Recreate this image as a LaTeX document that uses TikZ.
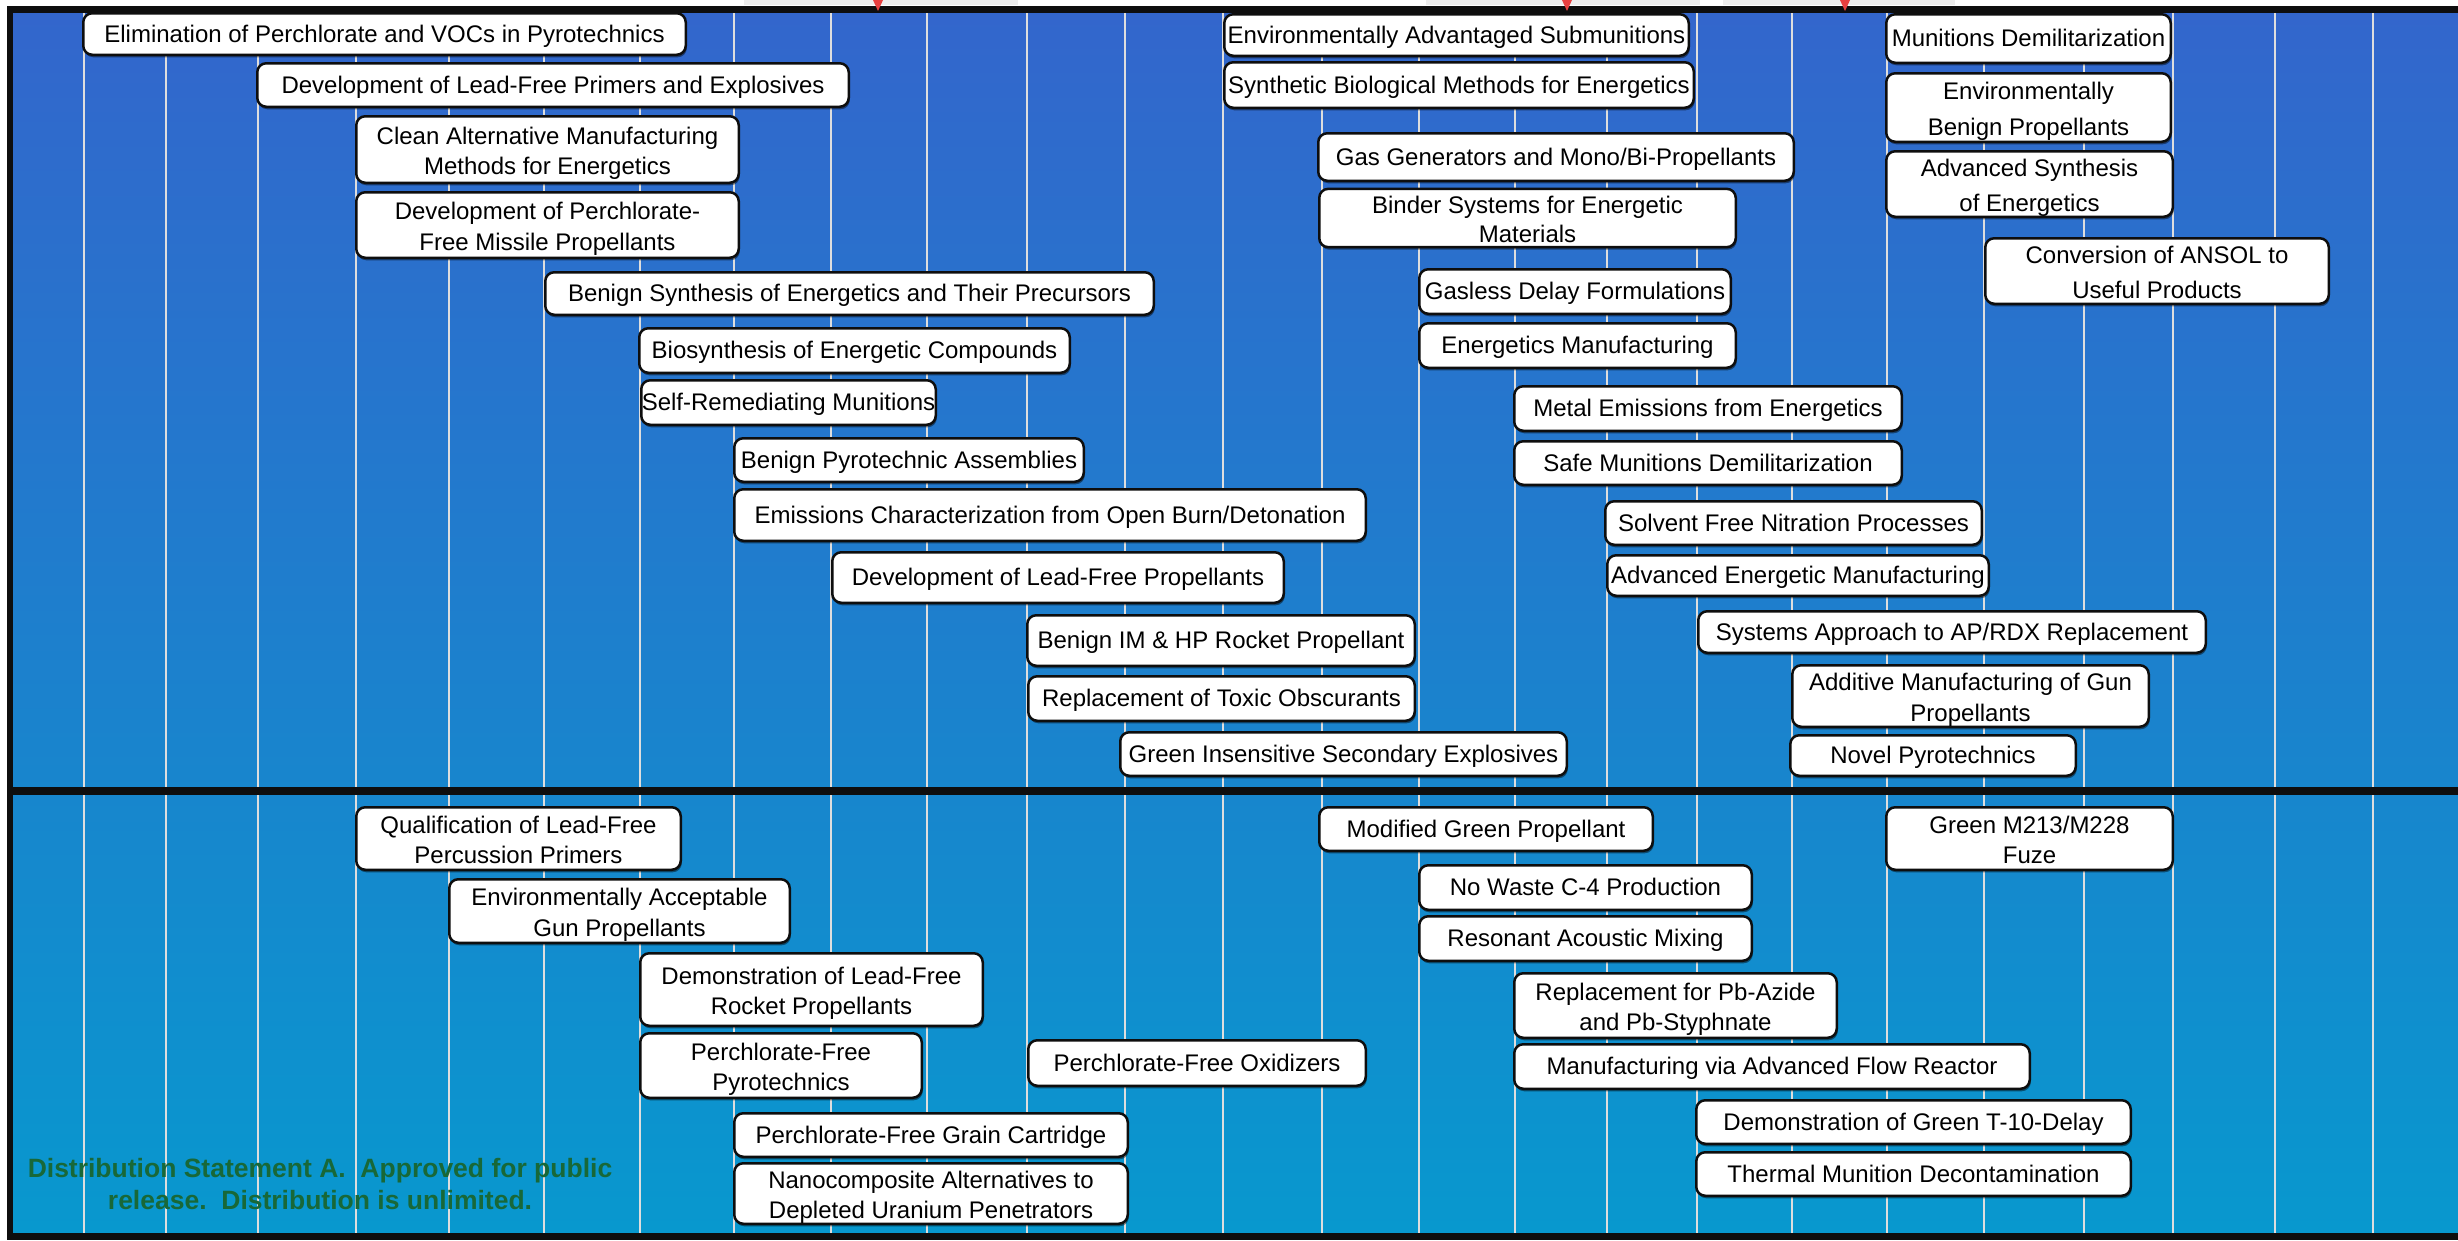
\documentclass[tikz,border=0pt]{standalone}
\usepackage{fontspec}
\setmainfont{Liberation Sans}
\usetikzlibrary{shadows}
\definecolor{bgtop}{RGB}{51,102,204}
\definecolor{bgbot}{RGB}{8,152,206}
\definecolor{gridc}{RGB}{222,222,222}
\definecolor{dgreen}{RGB}{24,104,56}
\definecolor{arrowred}{RGB}{232,64,64}
\definecolor{framec}{RGB}{14,14,14}
\newcommand\tlstrut{\rule[-0.212em]{0pt}{1.117em}}
\newcommand\tltopstrut{\rule[-0.212em]{0pt}{\dimexpr1.117em+3pt\relax}}
\tikzset{
  tlbox/.style={draw=framec, line width=2.5pt, fill=white, rounded corners=9pt,
    align=center, inner sep=0pt, text=black,
    drop shadow={shadow xshift=1pt, shadow yshift=-2.5pt, fill=black, opacity=0.45}},
  gridline/.style={draw=gridc, line width=2.5pt},
  disttext/.style={font=\fontsize{26.5}{32}\selectfont\bfseries, text=dgreen, align=center}
}
\newcommand\tlnode[7][29]{%
  \node[tlbox, font=\fontsize{24}{#1}\selectfont,
        minimum width={(#5-#3-2.5)*1pt}, minimum height={(#6-#4-2.5)*1pt}]
        (#2) at ({(#3+#5)/2},{(#4+#6)/2}) {\tlstrut#7};}
\newcommand\tltwonode[7][30.5]{%
  \node[tlbox, font=\fontsize{24}{#1}\selectfont,
        minimum width={(#5-#3-2.5)*1pt}, minimum height={(#6-#4-2.5)*1pt}]
        (#2) at ({(#3+#5)/2},{(#4+#6)/2}) {\tltopstrut#7\tlstrut};}
\begin{document}
\begin{tikzpicture}[x=1pt,y=-1pt]
\useasboundingbox (0,0) rectangle (2458,1240);
\fill[white] (0,0) rectangle (2458,1240);
% top slivers
\fill[gray!14] (744,0) rectangle (1018,5);
\fill[gray!14] (1426,0) rectangle (1700,5);
\fill[gray!14] (1723,0) rectangle (1955,5);
% background
\shade[top color=bgtop, bottom color=bgbot] (13,12) rectangle (2458,1233);
% grid
\foreach \x in {84,166,258,356,449,544,640,734,831,927,1027,1125,1223,1322,1419,1515,1607,1697,1792,1887,1984,2084,2173,2275,2373}
  \draw[gridline] (\x,11) -- (\x,1233);
% frame
\fill[framec] (7,6) rectangle (2458,12.5);
\fill[framec] (7,6) rectangle (13,1240);
\fill[framec] (7,1233) rectangle (2458,1240);
\fill[framec] (7,787) rectangle (2458,795);
% red markers
\fill[arrowred] (873,0) -- (883,0) -- (878,11) -- cycle;
\fill[arrowred] (1562,0) -- (1572,0) -- (1567,11) -- cycle;
\fill[arrowred] (1840,0) -- (1850,0) -- (1845,11) -- cycle;
% upper panel
\tlnode{b1}{82}{12}{687}{56}{Elimination of Perchlorate and VOCs in Pyrotechnics}
\tlnode{b2}{256}{62}{850}{108}{Development of Lead-Free Primers and Explosives}
\tltwonode{b3}{355}{115}{740}{184}{Clean Alternative Manufacturing\\Methods for Energetics}
\tltwonode{b4}{355}{191}{740}{259}{Development of Perchlorate-\\Free Missile Propellants}
\tlnode{b5}{544}{271}{1155}{316}{Benign Synthesis of Energetics and Their Precursors}
\tlnode{b6}{638}{327}{1071}{374}{Biosynthesis of Energetic Compounds}
\tlnode{b7}{640}{379}{937}{426}{Self-Remediating Munitions}
\tlnode{b8}{733}{437}{1085}{483}{Benign Pyrotechnic Assemblies}
\tlnode{b9}{733}{488}{1367}{542}{Emissions Characterization from Open Burn/Detonation}
\tlnode{b10}{831}{551}{1285}{604}{Development of Lead-Free Propellants}
\tlnode{b11}{1026}{614}{1416}{667}{Benign IM \& HP Rocket Propellant}
\tlnode{b12}{1027}{675}{1416}{722}{Replacement of Toxic Obscurants}
\tlnode{b13}{1119}{731}{1568}{777}{Green Insensitive Secondary Explosives}
\tlnode{b14}{1223}{13}{1690}{57}{Environmentally Advantaged Submunitions}
\tlnode{b15}{1223}{61}{1695}{109}{Synthetic Biological Methods for Energetics}
\tlnode{b16}{1317}{132}{1795}{182}{Gas Generators and Mono/Bi-Propellants}
\tltwonode[28.5]{b17}{1318}{188}{1737}{248}{Binder Systems for Energetic\\Materials}
\tlnode{b18}{1418}{268}{1732}{315}{Gasless Delay Formulations}
\tlnode{b19}{1418}{322}{1737}{369}{Energetics Manufacturing}
\tlnode{b20}{1513}{385}{1903}{432}{Metal Emissions from Energetics}
\tlnode{b21}{1513}{440}{1903}{486}{Safe Munitions Demilitarization}
\tlnode{b22}{1604}{500}{1983}{546}{Solvent Free Nitration Processes}
\tlnode{b23}{1606}{554}{1990}{597}{Advanced Energetic Manufacturing}
\tlnode{b24}{1697}{610}{2207}{654}{Systems Approach to AP/RDX Replacement}
\tltwonode{b25}{1791}{664}{2150}{728}{Additive Manufacturing of Gun\\Propellants}
\tlnode{b26}{1789}{734}{2077}{777}{Novel Pyrotechnics}
\tlnode{b27}{1885}{13}{2172}{64}{Munitions Demilitarization}
\tltwonode[35.5]{b28}{1885}{72}{2172}{143}{Environmentally\\Benign Propellants}
\tltwonode[35.5]{b29}{1885}{150}{2174}{218}{Advanced Synthesis\\of Energetics}
\tltwonode[34.5]{b30}{1984}{237}{2330}{305}{Conversion of ANSOL to\\Useful Products}
% lower panel
\tltwonode[29.5]{b31}{355}{806}{682}{871}{Qualification of Lead-Free\\Percussion Primers}
\tltwonode{b32}{448}{878}{791}{944}{Environmentally Acceptable\\Gun Propellants}
\tltwonode[29.5]{b33}{639}{952}{984}{1027}{Demonstration of Lead-Free\\Rocket Propellants}
\tltwonode[29.5]{b34}{639}{1032}{923}{1099}{Perchlorate-Free\\Pyrotechnics}
\tlnode{b35}{1027}{1039}{1367}{1087}{Perchlorate-Free Oxidizers}
\tlnode{b36}{733}{1112}{1129}{1158}{Perchlorate-Free Grain Cartridge}
\tltwonode{b37}{733}{1162}{1129}{1225}{Nanocomposite Alternatives to\\Depleted Uranium Penetrators}
\tlnode{b38}{1318}{806}{1654}{852}{Modified Green Propellant}
\tlnode{b39}{1418}{864}{1753}{911}{No Waste C-4 Production}
\tlnode{b40}{1418}{915}{1753}{962}{Resonant Acoustic Mixing}
\tltwonode{b41}{1513}{972}{1838}{1039}{Replacement for Pb-Azide\\and Pb-Styphnate}
\tlnode{b42}{1513}{1043}{2031}{1090}{Manufacturing via Advanced Flow Reactor}
\tlnode{b43}{1695}{1099}{2132}{1145}{Demonstration of Green T-10-Delay}
\tlnode{b44}{1695}{1151}{2132}{1197}{Thermal Munition Decontamination}
\tltwonode[29.5]{b45}{1885}{806}{2174}{871}{Green M213/M228\\Fuze}
% distribution statement
\node[disttext] (dist) at (320,1184) {Distribution Statement A.\ \ Approved for public\\release.\ \ Distribution is unlimited.};
\end{tikzpicture}
\end{document}
